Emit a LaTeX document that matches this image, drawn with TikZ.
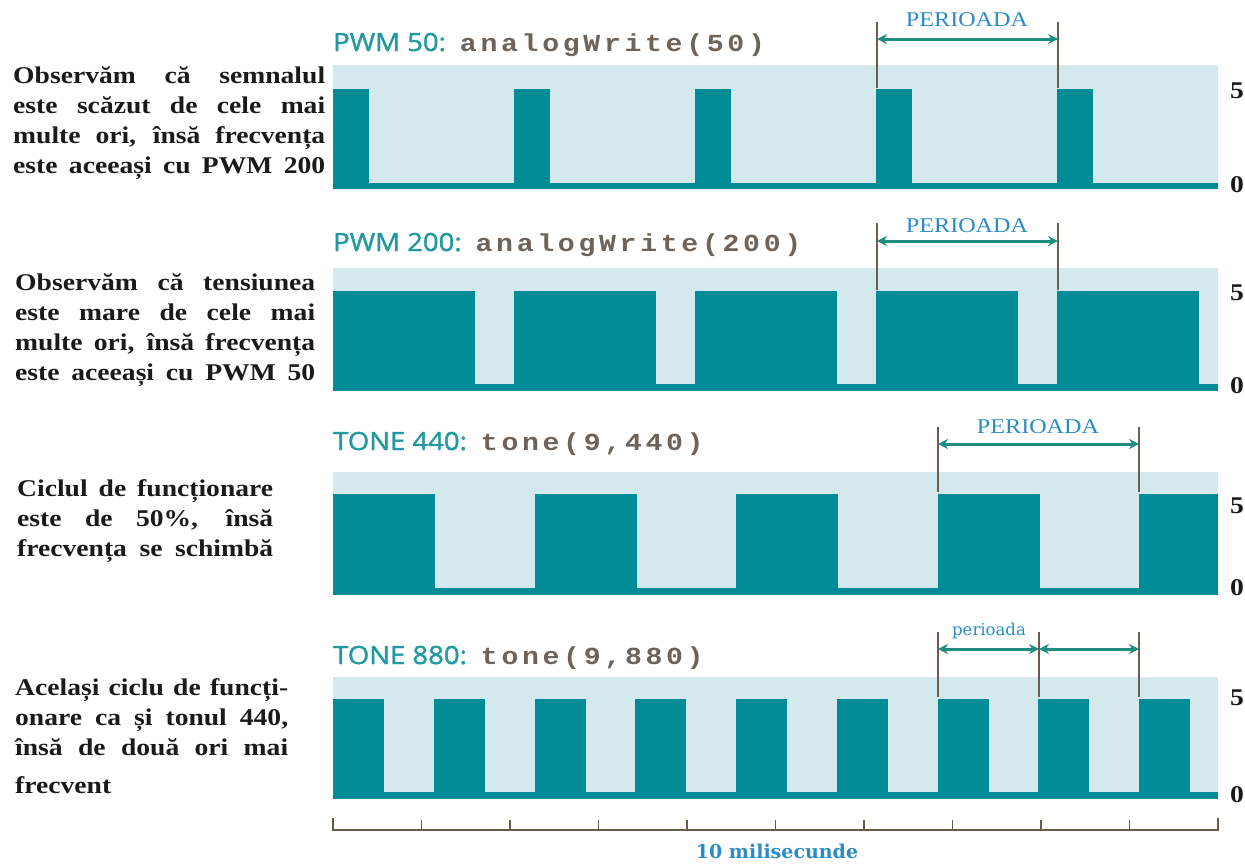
\documentclass[tikz,border=0pt]{standalone}
\usepackage{fontspec}
\setmainfont[FakeStretch=1.15]{Liberation Serif}
\newfontfamily\titlef[FakeStretch=1.1,FakeBold=1.6]{Open Sans}
\newfontfamily\codef[FakeStretch=1.15,LetterSpace=15]{Liberation Mono}
\newfontfamily\notef{DejaVu Serif}
\usetikzlibrary{arrows.meta}

\definecolor{pulse}{HTML}{008C96}
\definecolor{bgband}{HTML}{D4E9EE}
\definecolor{titleteal}{HTML}{239A9E}
\definecolor{codegray}{HTML}{6E635A}
\definecolor{labelblue}{HTML}{2B8CC4}
\definecolor{arrowteal}{HTML}{1F8C80}
\definecolor{markgray}{HTML}{6B5D52}
\definecolor{axisbrown}{HTML}{6B5A48}
\definecolor{ink}{HTML}{1A1A1A}

% one signal strip: background band, low level line and the pulses
% #1 band top, #2 pulse top, #3 low line top, #4 low line bottom,
% #5 period, #6 pulse width, #7 index of the last pulse
\newcommand\drawsignal[7]{%
  \fill[bgband] (333,#1) rectangle (1218,#3);
  \fill[pulse] (333,#3) rectangle (1218,#4);
  \foreach \k in {0,...,#7}{%
    \pgfmathsetmacro\xa{333+\k*#5}%
    \pgfmathsetmacro\xb{min(\xa+#6,1218)}%
    \fill[pulse] (\xa,#2) rectangle (\xb,#4);
  }%
}
% one justified line of the side notes
\newcommand\jline[2]{\hbox{\makebox[#1][s]{#2}}}

\begin{document}
\begin{tikzpicture}[x=1pt,y=-1pt,
  note/.style={anchor=base west,inner sep=0pt,text=ink,font=\fontsize{24}{30}\selectfont\bfseries},
  caption/.style={anchor=base west,inner sep=0pt},
  level/.style={inner sep=0pt,text=ink,font=\fontsize{24}{24}\selectfont\bfseries},
  markline/.style={draw=markgray,line width=1.4pt},
  period/.style={draw=arrowteal,line width=3pt,{Stealth[length=10pt,width=10pt]}-{Stealth[length=10pt,width=10pt]}},
  perlabel/.style={inner sep=0pt,text=labelblue,font=\fontsize{21}{21}\selectfont},
  axisline/.style={draw=axisbrown,line width=1.8pt}
]
\useasboundingbox (0,0) rectangle (1245,863);

% ---------- signal strips ----------
\drawsignal{65}{89}{183}{189}{181}{36}{4}
\drawsignal{268}{291}{384}{391}{181}{142}{4}
\drawsignal{472}{494}{588}{595}{201.5}{102}{4}
\drawsignal{677}{699}{792}{799}{100.75}{51}{8}

% ---------- strip titles ----------
\def\ttl#1#2{{\titlef\fontsize{25}{25}\selectfont\color{titleteal}#1}\hspace{14pt}{\codef\bfseries\fontsize{24.5}{24.5}\selectfont\color{codegray}#2}}
\node[caption] (t1) at (333,51) {\ttl{PWM 50:}{analogWrite(50)}};
\node[caption] (t2) at (333,251) {\ttl{PWM 200:}{analogWrite(200)}};
\node[caption] (t3) at (333,450) {\ttl{TONE 440:}{tone(9,440)}};
\node[caption] (t4) at (333,664) {\ttl{TONE 880:}{tone(9,880)}};

% ---------- level labels ----------
\foreach \n/\yh/\yl in {1/91/185, 2/293/386, 3/506/588, 4/698/795}{
  \node[level] (hi\n) at (1237,\yh) {5};
  \node[level] (lo\n) at (1237,\yl) {0};
}

% ---------- period markers ----------
\coordinate (m1a) at (877,22);  \coordinate (m1b) at (877,88);
\coordinate (m1c) at (1058,22); \coordinate (m1d) at (1058,88);
\draw[markline] (m1a) -- (m1b);
\draw[markline] (m1c) -- (m1d);
\coordinate (p1l) at (877,39); \coordinate (p1r) at (1058,39);
\draw[period] (p1l) -- (p1r);
\node[perlabel] (per1) at (967,20) {PERIOADA};

\coordinate (m2a) at (877,223);  \coordinate (m2b) at (877,290);
\coordinate (m2c) at (1058,223); \coordinate (m2d) at (1058,290);
\draw[markline] (m2a) -- (m2b);
\draw[markline] (m2c) -- (m2d);
\coordinate (p2l) at (877,241); \coordinate (p2r) at (1058,241);
\draw[period] (p2l) -- (p2r);
\node[perlabel] (per2) at (967,226) {PERIOADA};

\coordinate (m3a) at (938,427);  \coordinate (m3b) at (938,492);
\coordinate (m3c) at (1139,427); \coordinate (m3d) at (1139,492);
\draw[markline] (m3a) -- (m3b);
\draw[markline] (m3c) -- (m3d);
\coordinate (p3l) at (938,444); \coordinate (p3r) at (1139,444);
\draw[period] (p3l) -- (p3r);
\node[perlabel] (per3) at (1038,427) {PERIOADA};

\coordinate (m4a) at (938,632);  \coordinate (m4b) at (938,697);
\coordinate (m4c) at (1039,632); \coordinate (m4d) at (1039,697);
\coordinate (m4e) at (1139,632); \coordinate (m4f) at (1139,697);
\draw[markline] (m4a) -- (m4b);
\draw[markline] (m4c) -- (m4d);
\draw[markline] (m4e) -- (m4f);
\coordinate (p4l) at (938,649); \coordinate (p4m) at (1039,649); \coordinate (p4r) at (1139,649);
\draw[period] (p4l) -- (p4m);
\draw[period] (p4m) -- (p4r);
\node[inner sep=0pt,text=labelblue,font=\notef\fontsize{16.5}{16.5}\selectfont] (per4) at (989,631) {perioada};

% ---------- time axis ----------
\coordinate (axl) at (333,830); \coordinate (axr) at (1218,830);
\draw[axisline] (333,818) -- (axl) -- (axr) -- (1218,818);
\foreach \k in {1,...,9}{
  \draw[axisline] ({333+\k*88.5},830) -- ({333+\k*88.5},820);
}
\node[inner sep=0pt,text=labelblue,font=\notef\bfseries\fontsize{19}{19}\selectfont] (ms) at (777,851) {10 milisecunde};

% ---------- side notes ----------
\node[note] (n1) at (13,83) {\vtop{\baselineskip=30pt
  \jline{312pt}{Observăm că semnalul}
  \jline{312pt}{este scăzut de cele mai}
  \jline{312pt}{multe ori, însă frecvența}
  \jline{312pt}{este aceeași cu PWM 200}}};
\node[note] (n2) at (15,290) {\vtop{\baselineskip=30pt
  \jline{300pt}{Observăm că tensiunea}
  \jline{300pt}{este mare de cele mai}
  \jline{300pt}{multe ori, însă frecvența}
  \jline{300pt}{este aceeași cu PWM 50}}};
\node[note] (n3) at (17,496) {\vtop{\baselineskip=30pt
  \jline{256pt}{Ciclul de funcționare}
  \jline{256pt}{este de 50\%, însă}
  \jline{256pt}{frecvența se schimbă}}};
\node[note] (n4) at (15,695) {\vtop{\baselineskip=30pt
  \jline{273pt}{Același ciclu de funcți-}
  \jline{273pt}{onare ca și tonul 440,}
  \jline{273pt}{însă de două ori mai}
  \vskip 8pt
  \hbox{frecvent}}};
\end{tikzpicture}
\end{document}
